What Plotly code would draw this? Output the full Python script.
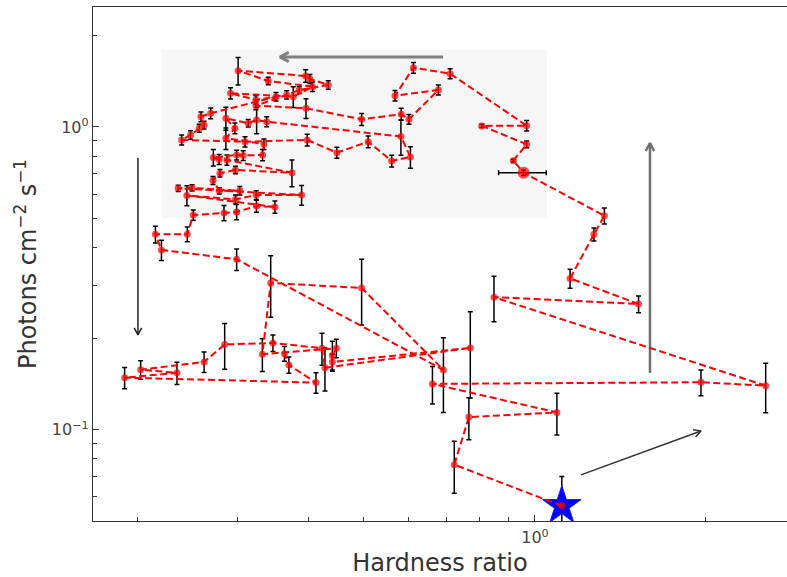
import math
import plotly.graph_objects as go

hardness = [1.115, 0.721, 0.765, 1.093, 0.660, 1.96, 2.548, 0.847, 1.522, 1.153,
            1.27, 1.325, 0.955, 0.916, 0.967, 0.806, 0.967, 0.709, 0.611, 0.567,
            0.676, 0.600, 0.5815, 0.4953, 0.3953, 0.3227, 0.3655, 0.3846, 0.4326, 0.4016,
            0.3947, 0.3002, 0.3392, 0.4061, 0.3754, 0.2911, 0.3227, 0.3500, 0.2686, 0.2582,
            0.2615, 0.2564, 0.2476, 0.2388, 0.3087, 0.3972, 0.448, 0.5086, 0.5595, 0.6036,
            0.5808, 0.3371, 0.3236, 0.3128, 0.2857, 0.2963, 0.2857, 0.3333, 0.3315, 0.3065,
            0.2984, 0.2715, 0.278, 0.2869, 0.3734, 0.297, 0.2789, 0.2711, 0.2782, 0.3023,
            0.2491, 0.2355, 0.3883, 0.3231, 0.297, 0.2439, 0.3485, 0.3234, 0.2984, 0.2835,
            0.2503, 0.2443, 0.2147, 0.22, 0.2984, 0.690, 0.4953, 0.3426, 0.3312, 0.4471,
            0.4399, 0.4399, 0.7694, 0.4269, 0.4217, 0.3457, 0.2843, 0.2615, 0.2022, 0.2343,
            0.1895, 0.4116, 0.3688, 0.3622]
flux = [0.056, 0.0766, 0.110, 0.114, 0.1416, 0.1434, 0.1397, 0.274, 0.260, 0.316,
        0.442, 0.509, 0.706, 0.774, 0.8765, 1.008, 1.01, 1.50, 1.57, 1.269,
        1.325, 1.06, 1.102, 1.06, 1.153, 1.176, 1.276, 1.325, 1.377, 1.441,
        1.474, 1.535, 1.419, 1.359, 1.259, 1.292, 1.228, 1.259, 1.110, 1.081,
        1.015, 0.990, 0.941, 0.906, 0.894, 0.906, 0.8225, 0.894, 0.772, 0.796,
        0.930, 1.041, 1.055, 1.029, 1.068, 0.990, 0.918, 0.878, 0.808, 0.805,
        0.808, 0.793, 0.781, 0.778, 0.706, 0.721, 0.703, 0.666, 0.615, 0.6155,
        0.629, 0.627, 0.596, 0.596, 0.576, 0.594, 0.544, 0.548, 0.524, 0.5198,
        0.512, 0.4424, 0.442, 0.3924, 0.3655, 0.1575, 0.2938, 0.3052, 0.1776, 0.1857,
        0.1759, 0.1674, 0.1862, 0.1601, 0.1857, 0.1933, 0.1912, 0.1674, 0.1578, 0.154,
        0.1485, 0.143, 0.1636, 0.1782]
flux_err = [0.014, 0.015, 0.0175, 0.018, 0.020, 0.014, 0.026, 0.047, 0.0165, 0.023,
            0.022, 0.031, 0.015, 0.008, 0.022, 0.012, 0.04, 0.058, 0.064, 0.05,
            0.05, 0.04, 0.05, 0.048, 0.087, 0.035, 0.04, 0.035, 0.045, 0.05,
            0.07, 0.16, 0.04, 0.05, 0.1, 0.055, 0.04, 0.04, 0.045, 0.04,
            0.03, 0.03, 0.03, 0.035, 0.035, 0.04, 0.035, 0.04, 0.035, 0.065,
            0.124, 0.04, 0.105, 0.03, 0.093, 0.04, 0.075, 0.035, 0.035, 0.03,
            0.03, 0.05, 0.03, 0.03, 0.072, 0.02, 0.02, 0.02, 0.015, 0.02,
            0.015, 0.015, 0.045, 0.02, 0.02, 0.045, 0.025, 0.025, 0.03, 0.03,
            0.02, 0.025, 0.028, 0.03, 0.03, 0.0435, 0.072, 0.07, 0.022, 0.013,
            0.02, 0.01, 0.059, 0.026, 0.0225, 0.012, 0.033, 0.013, 0.011, 0.013,
            0.012, 0.011, 0.01, 0.01]

# observation with a hardness-ratio error bar (large marker)
wide_hr = [0.955]
wide_flux = [0.706]
wide_hr_err = [0.092]

# first observation (star)
star_hr = [1.115]
star_flux = [0.056]

# axis limits
hr_lim = (0.1667, 2.778)
flux_lim = (0.0499, 2.491)

# shaded region and arrows (tail -> head), in data units
box_hr = (0.22, 1.05)
box_flux = (0.5, 1.8)
arrows = [
    # (tail_hr, tail_flux, head_hr, head_flux, colour, width, head_len_px)
    (0.689, 1.703, 0.3557, 1.703, "#7f7f7f", 3.0, 10),
    (0.200, 0.790, 0.200, 0.2055, "#222222", 1.5, 8),
    (1.594, 0.154, 1.594, 0.885, "#6f6f6f", 2.5, 9),
    (1.205, 0.0709, 1.96, 0.099, "#333333", 1.5, 8),
]

FONT = "DejaVu Sans"
W, H = 787, 577
M = dict(l=93, r=0, t=7, b=56)
xr = [math.log10(hr_lim[0]), math.log10(hr_lim[1])]
yr = [math.log10(flux_lim[0]), math.log10(flux_lim[1])]
kx = (W - M["l"] - M["r"]) / (xr[1] - xr[0])   # px per decade
ky = (H - M["t"] - M["b"]) / (yr[1] - yr[0])

marker_sizes = [12 if (h, f) == (wide_hr[0], wide_flux[0]) else 7
                for h, f in zip(hardness, flux)]

fig = go.Figure()

fig.add_shape(type="rect", xref="x", yref="y",
              x0=box_hr[0], x1=box_hr[1], y0=box_flux[0], y1=box_flux[1],
              fillcolor="#f6f6f6", line=dict(width=0), layer="below")

# arrows: shaft + open chevron head, built in log space
for th, tf, hh, hf, col, w, L in arrows:
    lx0, ly0, lx1, ly1 = map(math.log10, (th, tf, hh, hf))
    dxp, dyp = (lx1 - lx0) * kx, (ly1 - ly0) * ky
    n = math.hypot(dxp, dyp)
    ux, uy = dxp / n, dyp / n
    xs = [th, hh, None]
    ys = [tf, hf, None]
    for sgn in (1, -1):
        a = math.radians(28) * sgn
        bx = ux * math.cos(a) - uy * math.sin(a)
        by = ux * math.sin(a) + uy * math.cos(a)
        xs.append(10 ** (lx1 - L * bx / kx))
        ys.append(10 ** (ly1 - L * by / ky))
        if sgn == 1:
            xs.append(hh)
            ys.append(hf)
    fig.add_trace(go.Scatter(x=xs, y=ys, mode="lines",
                             line=dict(color=col, width=w),
                             hoverinfo="skip", showlegend=False))

# error bars (drawn beneath the track)
fig.add_trace(go.Scatter(
    x=hardness, y=flux, mode="markers",
    marker=dict(size=1, color="rgba(0,0,0,0)"),
    error_y=dict(type="data", array=flux_err, color="black", thickness=1.5, width=2.5),
    hoverinfo="skip", showlegend=False))
fig.add_trace(go.Scatter(
    x=wide_hr, y=wide_flux, mode="markers",
    marker=dict(size=1, color="rgba(0,0,0,0)"),
    error_x=dict(type="data", array=wide_hr_err, color="black", thickness=1.5, width=2.5),
    hoverinfo="skip", showlegend=False))

# star
fig.add_trace(go.Scatter(
    x=star_hr, y=star_flux, mode="markers",
    marker=dict(symbol="star", size=29, color="#0000ff", line=dict(color="#1a1aff", width=1)),
    showlegend=False))

# the track
fig.add_trace(go.Scatter(
    x=hardness, y=flux, mode="lines+markers",
    line=dict(color="#ff0000", width=2, dash="7px,3.5px"),
    marker=dict(color="#ff0000", size=marker_sizes, line=dict(width=0)),
    showlegend=False))

axis_common = dict(
    type="log", showgrid=False, zeroline=False, showline=True,
    linecolor="#333333", linewidth=1.3, ticks="inside", ticklen=6,
    tickwidth=1.1, tickcolor="#333333",
    tickfont=dict(family=FONT, size=16, color="#444444"),
    automargin=False,
)

fig.update_layout(
    width=W, height=H,
    margin=M,
    paper_bgcolor="white", plot_bgcolor="white",
    template="none",
    font=dict(family=FONT, color="#333333"),
    xaxis=dict(
        **axis_common,
        range=xr,
        mirror=True,
        ticklabelstandoff=2,
        tickvals=[1.0], ticktext=["10<sup>0</sup>"],
        minor=dict(tickvals=[0.2, 0.3, 0.4, 0.5, 0.6, 0.7, 0.8, 0.9, 2.0],
                   ticks="inside", ticklen=3.5, tickwidth=1, tickcolor="#333333",
                   showgrid=False),
        title=dict(text="Hardness ratio", font=dict(family=FONT, size=24, color="#333333"),
                   standoff=14),
    ),
    yaxis=dict(
        **axis_common,
        range=yr,
        mirror=False,
        tickvals=[0.1, 1.0], ticktext=["10<sup>\u22121</sup>", "10<sup>0</sup>"],
        minor=dict(tickvals=[0.06, 0.07, 0.08, 0.09, 0.2, 0.3, 0.4, 0.5, 0.6, 0.7,
                             0.8, 0.9, 2.0],
                   ticks="inside", ticklen=3.5, tickwidth=1, tickcolor="#333333",
                   showgrid=False),
        title=dict(text="Photons cm<sup>\u22122</sup> s<sup>\u22121</sup>",
                   font=dict(family=FONT, size=24, color="#333333"), standoff=8),
    ),
)

# page without the browser's default body margin so the 787x577 figure fills the window
fig.write_html("out.html", config={"displayModeBar": False},
               post_script="document.body.style.margin='0px';")
